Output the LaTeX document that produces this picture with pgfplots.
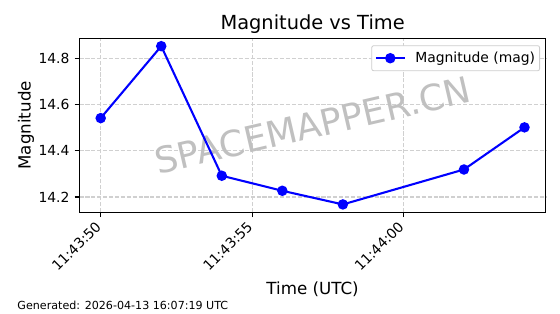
\documentclass[border=0pt]{standalone}
\usepackage{fontspec}
\setmainfont{DejaVu Sans}
\usepackage{pgfplots}
\pgfplotsset{compat=1.18}
\definecolor{gridc}{RGB}{208,208,208}
\definecolor{wm}{RGB}{192,192,192}
\definecolor{legc}{RGB}{204,204,204}
\begin{document}
\begin{tikzpicture}
\useasboundingbox (0bp,0bp) rectangle (560bp,314bp);
\begin{axis}[
  at={(79.5bp,101.7bp)}, anchor=south west,
  scale only axis, width=466.2bp, height=174bp,
  xmin=49.3, xmax=64.7, ymin=14.134, ymax=14.886,
  xtick={50,55,60}, xticklabels={11:43:50,11:43:55,11:44:00},
  ytick={14.2,14.4,14.6,14.8},
  /pgf/number format/assume math mode=true,
  yticklabel style={/pgf/number format/fixed, /pgf/number format/fixed zerofill, /pgf/number format/precision=1},
  tick label style={font=\fontsize{13.9bp}{16bp}\selectfont},
  xticklabel style={inner sep=0pt, xshift=-6bp, yshift=-3bp, rotate=45, anchor=north east},
  yticklabel style={inner sep=0pt, xshift=-4.9bp, anchor=east},
  tick align=outside, tick pos=left,
  major tick length=4.9bp,
  major tick style={black, line width=1.1bp},
  axis line style={line width=1.1bp},
  grid=major,
  major grid style={gridc, line width=1.1bp, dash pattern=on 4.1bp off 1.8bp},
  title={Magnitude vs Time},
  every axis title/.style={font=\fontsize{19.4bp}{23bp}\selectfont, at={(axis description cs:0.5,1)}, anchor=base, yshift=9bp},
  xlabel={Time (UTC)},
  every axis x label/.style={font=\fontsize{16.7bp}{20bp}\selectfont, at={(axis description cs:0.5,0)}, anchor=base, yshift=-82bp},
  ylabel={Magnitude},
  every axis y label/.style={font=\fontsize{16.7bp}{20bp}\selectfont, at={(axis description cs:-0.1051,0.5)}, anchor=base, rotate=90},
  legend style={at={(axis description cs:0.9878,0.9598)}, anchor=north east,
    font=\fontsize{13.9bp}{16bp}\selectfont, draw=legc, line width=0.8bp, fill=white,
    rounded corners=2bp, inner xsep=3bp, inner ysep=5bp,
    nodes={inner sep=1.5bp},
    /tikz/every odd column/.append style={column sep=8bp}},
  legend cell align=left,
  legend image code/.code={\draw[mark repeat=2,mark phase=2,#1] plot coordinates {(0bp,0bp) (14.5bp,0bp) (29bp,0bp)};},
]
\node[rotate=13, text=wm, font=\fontsize{36bp}{42bp}\selectfont, inner sep=0pt] at (axis description cs:0.5,0.5) {SPACEMAPPER.CN};
\addplot[blue, line width=2.08bp, mark=*, mark size=4.15bp, mark options={solid, fill=blue, draw=blue}]
  coordinates {(50,14.541) (52,14.852) (54,14.292) (56,14.227) (58,14.168) (62,14.319) (64,14.501)};
\addlegendentry{Magnitude (mag)}
\end{axis}
\node[anchor=base west, font=\fontsize{11.1bp}{13bp}\selectfont, inner sep=0pt] at (17.3bp,4.7bp) {Generated: 2026-04-13 16:07:19 UTC};
\end{tikzpicture}
\end{document}
